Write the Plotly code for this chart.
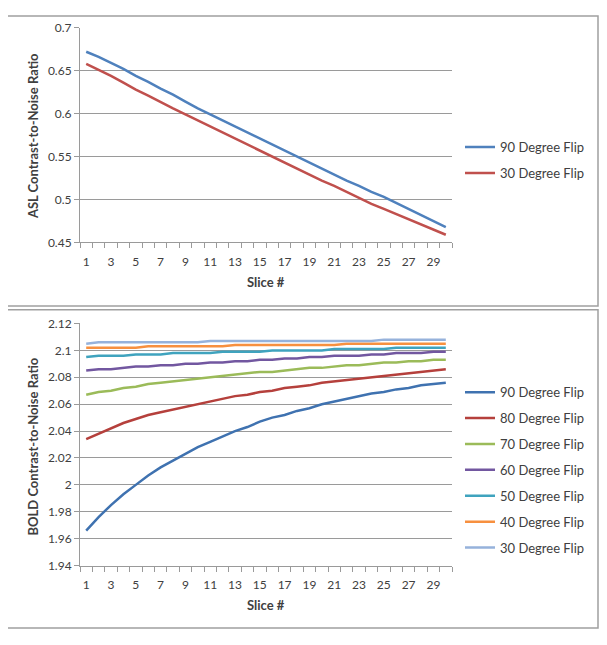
import plotly.graph_objects as go

# Slice numbers 1..30
slices = list(range(1, 31))

# ASL contrast-to-noise (top chart)
asl_90 = [0.672, 0.666, 0.659, 0.652, 0.644, 0.637, 0.629, 0.622, 0.614, 0.606,
          0.599, 0.592, 0.585, 0.578, 0.571, 0.564, 0.557, 0.550, 0.543, 0.536,
          0.529, 0.522, 0.516, 0.509, 0.503, 0.496, 0.489, 0.482, 0.475, 0.468]
asl_30 = [0.658, 0.651, 0.644, 0.636, 0.628, 0.621, 0.613, 0.606, 0.599, 0.592,
          0.585, 0.578, 0.571, 0.564, 0.557, 0.550, 0.543, 0.536, 0.529, 0.522,
          0.516, 0.509, 0.502, 0.495, 0.489, 0.483, 0.477, 0.471, 0.465, 0.459]

# BOLD contrast-to-noise (bottom chart)
bold_90 = [1.966, 1.976, 1.985, 1.993, 2.000, 2.007, 2.013, 2.018, 2.023, 2.028,
           2.032, 2.036, 2.040, 2.043, 2.047, 2.050, 2.052, 2.055, 2.057, 2.060,
           2.062, 2.064, 2.066, 2.068, 2.069, 2.071, 2.072, 2.074, 2.075, 2.076]
bold_80 = [2.034, 2.038, 2.042, 2.046, 2.049, 2.052, 2.054, 2.056, 2.058, 2.060,
           2.062, 2.064, 2.066, 2.067, 2.069, 2.070, 2.072, 2.073, 2.074, 2.076,
           2.077, 2.078, 2.079, 2.080, 2.081, 2.082, 2.083, 2.084, 2.085, 2.086]
bold_70 = [2.067, 2.069, 2.070, 2.072, 2.073, 2.075, 2.076, 2.077, 2.078, 2.079,
           2.080, 2.081, 2.082, 2.083, 2.084, 2.084, 2.085, 2.086, 2.087, 2.087,
           2.088, 2.089, 2.089, 2.090, 2.091, 2.091, 2.092, 2.092, 2.093, 2.093]
bold_60 = [2.085, 2.086, 2.086, 2.087, 2.088, 2.088, 2.089, 2.089, 2.090, 2.090,
           2.091, 2.091, 2.092, 2.092, 2.093, 2.093, 2.094, 2.094, 2.095, 2.095,
           2.096, 2.096, 2.096, 2.097, 2.097, 2.098, 2.098, 2.098, 2.099, 2.099]
bold_50 = [2.095, 2.096, 2.096, 2.096, 2.097, 2.097, 2.097, 2.098, 2.098, 2.098,
           2.098, 2.099, 2.099, 2.099, 2.099, 2.100, 2.100, 2.100, 2.100, 2.100,
           2.101, 2.101, 2.101, 2.101, 2.101, 2.102, 2.102, 2.102, 2.102, 2.102]
bold_40 = [2.102, 2.102, 2.102, 2.102, 2.102, 2.103, 2.103, 2.103, 2.103, 2.103,
           2.103, 2.103, 2.104, 2.104, 2.104, 2.104, 2.104, 2.104, 2.104, 2.104,
           2.104, 2.105, 2.105, 2.105, 2.105, 2.105, 2.105, 2.105, 2.105, 2.105]
bold_30 = [2.105, 2.106, 2.106, 2.106, 2.106, 2.106, 2.106, 2.106, 2.106, 2.106,
           2.107, 2.107, 2.107, 2.107, 2.107, 2.107, 2.107, 2.107, 2.107, 2.107,
           2.107, 2.107, 2.107, 2.107, 2.108, 2.108, 2.108, 2.108, 2.108, 2.108]

asl_names = ["90 Degree Flip", "30 Degree Flip"]
asl_series = [asl_90, asl_30]
asl_colors = ["#4F81BD", "#C0504D"]

bold_names = ["90 Degree Flip", "80 Degree Flip", "70 Degree Flip", "60 Degree Flip",
              "50 Degree Flip", "40 Degree Flip", "30 Degree Flip"]
bold_series = [bold_90, bold_80, bold_70, bold_60, bold_50, bold_40, bold_30]
bold_colors = ["#3F72B0", "#B5403C", "#9BBB59", "#7257A0", "#3FA3BE", "#F7903F", "#96B2DB"]

asl_ticks = [0.45, 0.5, 0.55, 0.6, 0.65, 0.7]
asl_ticktext = ["0.45", "0.5", "0.55", "0.6", "0.65", "0.7"]
bold_ticks = [1.94, 1.96, 1.98, 2.0, 2.02, 2.04, 2.06, 2.08, 2.1, 2.12]
bold_ticktext = ["1.94", "1.96", "1.98", "2", "2.02", "2.04", "2.06", "2.08", "2.1", "2.12"]
x_ticks = list(range(1, 30, 2))

W, H = 607, 629   # page body takes 8px margin, window is 645 tall
OFF = 8
FONT = "Lato, 'Open Sans', sans-serif"
TXT = "#404040"
GRID = "#9a9a9a"


def px(v):
    return (v - OFF) / W


def py(v):
    return 1 - (v - OFF) / H


fig = go.Figure()

for name, ys, col in zip(asl_names, asl_series, asl_colors):
    fig.add_trace(go.Scatter(x=slices, y=ys, name=name, mode="lines",
                             line=dict(color=col, width=2.5),
                             xaxis="x", yaxis="y", legend="legend",
                             legendgroup="a" + name))

for name, ys, col in zip(bold_names, bold_series, bold_colors):
    fig.add_trace(go.Scatter(x=slices, y=ys, name=name, mode="lines",
                             line=dict(color=col, width=2.5),
                             xaxis="x2", yaxis="y2", legend="legend2",
                             legendgroup="b" + name))

xcommon = dict(range=[0.5, 30.5], tickmode="array", tickvals=x_ticks,
               ticks="", showgrid=False, zeroline=False,
               showline=True, linecolor=GRID, linewidth=1,
               ticklabelstandoff=8,
               tickfont=dict(family=FONT, size=12, color=TXT),
               minor=dict(tickmode="linear", tick0=0.5, dtick=1, ticks="outside",
                          ticklen=5, tickcolor=GRID, showgrid=False))
ycommon = dict(showgrid=True, gridcolor=GRID, gridwidth=1, zeroline=False,
               showline=True, linecolor=GRID, linewidth=1,
               ticks="outside", ticklen=5, tickcolor=GRID,
               tickfont=dict(family=FONT, size=12, color=TXT))

x_dom = [px(80), px(452)]

legend_common = dict(font=dict(family=FONT, size=13, color=TXT),
                     bgcolor="rgba(0,0,0,0)", xanchor="left", yanchor="top",
                     tracegroupgap=6, itemwidth=30, traceorder="grouped")

fig.update_layout(
    width=W, height=H,
    margin=dict(l=0, r=0, t=0, b=0),
    paper_bgcolor="white", plot_bgcolor="white",
    xaxis=dict(domain=x_dom, anchor="y", **xcommon),
    yaxis=dict(domain=[py(240), py(20)], anchor="x", range=[0.45, 0.7],
               tickmode="array", tickvals=asl_ticks, ticktext=asl_ticktext, **ycommon),
    xaxis2=dict(domain=x_dom, anchor="y2", **xcommon),
    yaxis2=dict(domain=[py(571), py(323)], anchor="x2", range=[1.94, 2.12],
                tickmode="array", tickvals=bold_ticks, ticktext=bold_ticktext, **ycommon),
    legend=dict(x=px(460), y=py(127), **legend_common),
    legend2=dict(x=px(460), y=py(378), **legend_common),
    showlegend=True,
)

title_font = dict(family=FONT, size=13, color=TXT)
fig.add_annotation(text="<b>ASL Contrast-to-Noise Ratio</b>", textangle=-90,
                   x=px(33), y=py(131), xref="paper", yref="paper",
                   xanchor="center", yanchor="middle",
                   showarrow=False, font=title_font)
fig.add_annotation(text="<b>BOLD Contrast-to-Noise Ratio</b>", textangle=-90,
                   x=px(33), y=py(449), xref="paper", yref="paper",
                   xanchor="center", yanchor="middle",
                   showarrow=False, font=title_font)
fig.add_annotation(text="<b>Slice #</b>", x=px(266), y=py(281),
                   xref="paper", yref="paper", xanchor="center", yanchor="middle",
                   showarrow=False, font=title_font)
fig.add_annotation(text="<b>Slice #</b>", x=px(266), y=py(611),
                   xref="paper", yref="paper", xanchor="center", yanchor="middle",
                   showarrow=False, font=title_font)

# chart frames
for y0, y1 in [(1, 305), (309, 635)]:
    fig.add_shape(type="rect", xref="paper", yref="paper",
                  x0=px(6), x1=px(598), y0=py(y1), y1=py(max(y0, OFF)),
                  line=dict(color="#a0a0a0", width=1.5))

fig.write_html("out.html")
